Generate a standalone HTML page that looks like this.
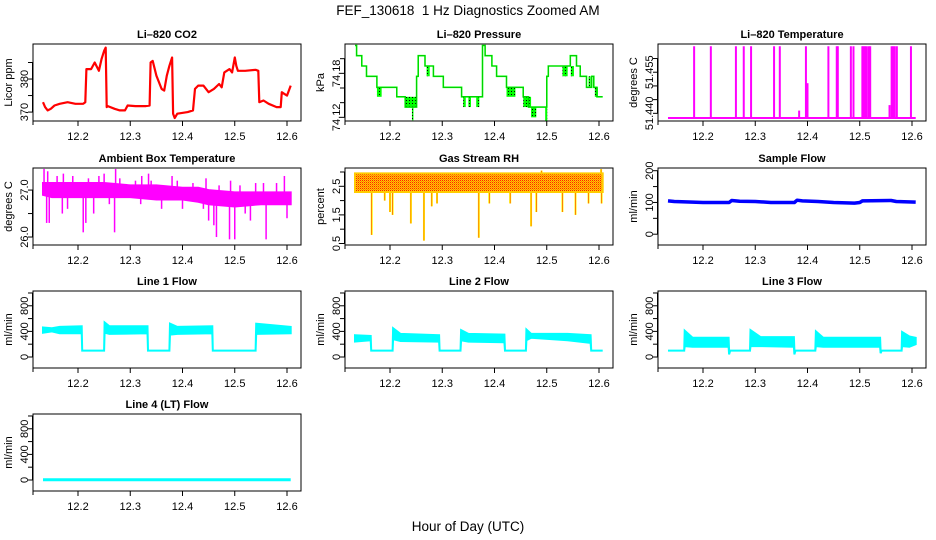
<!DOCTYPE html>
<html><head><meta charset="utf-8"><style>
html,body{margin:0;padding:0;background:#fff;}
svg{display:block;font-family:"Liberation Sans",Arial,sans-serif;}
</style></head><body>
<svg id="chart" width="936" height="540" viewBox="0 0 936 540" xmlns="http://www.w3.org/2000/svg">
<defs>
<pattern id="rhdots" width="2" height="2" patternUnits="userSpaceOnUse"><rect width="2" height="2" fill="#ffcc00"/><rect x="0" y="0" width="1" height="1" fill="#ff2000"/><rect x="1" y="1" width="1" height="1" fill="#ff8000"/></pattern>
<pattern id="presdots" width="3" height="3" patternUnits="userSpaceOnUse"><rect width="3" height="3" fill="#00ff00"/><rect x="1" y="1" width="1" height="1" fill="#000"/></pattern>
</defs>
<text x="468" y="15" text-anchor="middle" font-size="13.5" style="white-space:pre">FEF_130618  1 Hz Diagnostics Zoomed AM</text>
<text x="468" y="531" text-anchor="middle" font-size="13.5">Hour of Day (UTC)</text>
</svg>
<script>
// ---------- data ----------
const xTicks = [12.2, 12.3, 12.4, 12.5, 12.6];
const xTickLabels = ["12.2", "12.3", "12.4", "12.5", "12.6"];

const co2T = [12.133,12.137,12.142,12.148,12.155,12.165,12.18,12.195,12.21,12.214,12.216,12.225,12.232,12.24,12.245,12.25,12.253,12.255,12.257,12.27,12.28,12.29,12.295,12.31,12.33,12.337,12.339,12.343,12.35,12.36,12.365,12.37,12.375,12.38,12.382,12.385,12.39,12.41,12.42,12.424,12.43,12.44,12.45,12.46,12.47,12.475,12.48,12.49,12.495,12.5,12.503,12.506,12.52,12.54,12.545,12.547,12.555,12.565,12.58,12.588,12.59,12.595,12.6,12.607];
const co2V = [373,371.5,370.5,371,372,372.5,373,372.5,372.5,373,383,383,385,382.5,386,388.5,389.5,371.5,371.8,371,370.5,370.5,372,371.8,371.8,372,385,385.5,381,377,376.5,381,384,386.5,369.5,368.2,369.5,370,370.5,377,378,378,376,377,378.5,377.5,382,383,382,386.5,384,382.5,382.5,382.8,382.5,373,373.5,372.5,371.5,371.5,376,375.5,375,378];

const presT = [12.133,12.136,12.146,12.155,12.175,12.213,12.229,12.251,12.254,12.267,12.283,12.302,12.337,12.377,12.382,12.385,12.395,12.404,12.423,12.455,12.465,12.5,12.503,12.545,12.557,12.564,12.576,12.586,12.59,12.596,12.607];
const presV = [74.218,74.204,74.190,74.176,74.161,74.148,74.134,74.176,74.204,74.190,74.176,74.161,74.148,74.218,74.204,74.204,74.190,74.176,74.161,74.148,74.134,74.176,74.190,74.204,74.190,74.176,74.161,74.176,74.161,74.148,74.148];
const presBandT0 = [12.175,12.229,12.270,12.340,12.350,12.365,12.423,12.455,12.470,12.497,12.530,12.546,12.580,12.592,12.242];
const presBandT1 = [12.184,12.251,12.276,12.345,12.355,12.371,12.440,12.470,12.480,12.501,12.540,12.552,12.584,12.598,12.244];
const presBandHi = [74.161,74.148,74.190,74.148,74.148,74.148,74.161,74.148,74.134,74.134,74.190,74.190,74.176,74.161,74.134];
const presBandLo = [74.148,74.134,74.176,74.134,74.134,74.134,74.148,74.134,74.120,74.115,74.176,74.176,74.161,74.148,74.116];

const tempBaseT = [12.133,12.607];
const tempBaseV = [51.4383,51.4383];
const tempSpikeT = [12.183,12.215,12.263,12.278,12.292,12.336,12.347,12.384,12.397,12.4,12.44,12.456,12.458,12.483,12.488,12.505,12.507,12.51,12.513,12.517,12.52,12.557,12.561,12.564,12.567,12.571,12.598];
const tempSpikeV = [51.4645,51.4645,51.4645,51.4645,51.4645,51.4645,51.4645,51.441,51.4645,51.451,51.4645,51.4645,51.4645,51.4645,51.4645,51.4645,51.4645,51.4645,51.4645,51.4645,51.4645,51.443,51.4645,51.4645,51.4645,51.4645,51.4645];

const ambT  = [12.133,12.15,12.2,12.25,12.3,12.35,12.4,12.43,12.45,12.5,12.55,12.607];
const ambHi = [27.15,27.15,27.15,27.15,27.1,27.1,27.05,27.05,27.0,26.95,26.95,26.95];
const ambLo = [26.9,26.85,26.85,26.85,26.85,26.8,26.8,26.75,26.7,26.65,26.7,26.7];
const ambSpikeT = [12.14,12.145,12.17,12.18,12.21,12.215,12.23,12.27,12.26,12.32,12.36,12.4,12.44,12.45,12.46,12.465,12.49,12.5,12.52,12.53,12.56,12.6,12.135,12.142,12.172,12.272,12.25,12.322,12.335,12.38,12.445,12.492,12.555,12.595,12.16,12.19,12.22,12.24,12.28,12.31,12.34,12.39,12.42,12.47,12.51,12.54,12.58];
const ambSpikeV = [26.3,26.3,26.5,26.6,26.1,26.3,26.5,26.1,26.7,26.7,26.6,26.6,26.6,26.35,26.25,26.0,25.95,25.95,26.5,26.35,25.95,26.4,27.45,27.4,27.35,27.45,27.35,27.3,27.35,27.3,27.25,27.2,27.15,27.3,27.3,27.3,27.25,27.3,27.25,27.2,27.2,27.2,27.15,27.1,27.1,27.15,27.15];

const rhT  = [12.133,12.25,12.4,12.5,12.607];
const rhHi = [2.95,2.95,2.95,2.95,2.95];
const rhLo = [2.3,2.3,2.3,2.3,2.3];
const rhSpikeT = [12.165,12.19,12.2,12.205,12.24,12.265,12.28,12.29,12.37,12.39,12.43,12.47,12.48,12.53,12.555,12.58,12.605,12.49,12.604];
const rhSpikeV = [0.8,2.0,1.6,1.5,1.2,0.6,1.8,1.9,0.7,1.9,1.9,1.1,1.6,1.6,1.5,1.9,1.9,3.05,3.1];

const sfT = [12.133,12.145,12.18,12.2,12.25,12.255,12.27,12.3,12.33,12.375,12.38,12.39,12.42,12.45,12.49,12.5,12.505,12.56,12.57,12.607];
const sfV = [105,103,101,100,100,106,104,103,100,100,107,105,103,100,98,100,105,106,103,101];

const l1T  = [12.133,12.15,12.165,12.207,12.208,12.25,12.251,12.26,12.333,12.334,12.375,12.376,12.39,12.457,12.458,12.54,12.541,12.607];
const l1Hi = [460,450,470,480,100,100,540,480,480,100,100,520,470,480,100,100,520,470];
const l1Lo = [380,400,370,370,100,100,380,360,370,100,100,350,360,370,100,100,360,370];

const l2T  = [12.133,12.163,12.164,12.205,12.206,12.22,12.294,12.295,12.335,12.336,12.35,12.419,12.42,12.46,12.461,12.47,12.54,12.584,12.585,12.607];
const l2Hi = [340,330,100,100,450,360,340,100,100,420,360,350,100,100,430,360,360,340,100,100];
const l2Lo = [240,260,100,100,280,250,240,100,100,260,240,230,100,100,260,300,260,220,100,100];

const l3T  = [12.133,12.164,12.165,12.18,12.249,12.25,12.252,12.29,12.291,12.31,12.374,12.375,12.377,12.415,12.416,12.43,12.539,12.54,12.542,12.58,12.581,12.595,12.607];
const l3Hi = [100,100,410,300,300,100,100,100,420,310,310,100,100,100,400,300,300,100,100,100,390,320,300];
const l3Lo = [100,100,170,160,160,40,100,100,170,170,160,40,100,100,170,160,160,60,100,100,170,160,200];

const l4T = [12.133,12.607];
const l4V = [5,5];

// ---------- layout (styling) ----------
const svg = document.getElementById('chart');
const NS = 'http://www.w3.org/2000/svg';
const colL = [33, 345, 658];
const rowT = [44, 168, 291, 414];
const PW = 268, PH = 77;
function mk(tag, attrs, parent){const e=document.createElementNS(NS,tag);for(const k in attrs)e.setAttribute(k,attrs[k]);(parent||svg).appendChild(e);return e;}
function xs(t){return 45+(t-12.2)*522.5;}

const flowTicks=[0,200,400,600,800,1000], flowLabs=["0","","400","","800",""];
const panels = [
 {key:'co2',c:0,r:0,title:'Li\u2013820 CO2',ylab:'Licor ppm',ymin:367.3,ymax:390.6,ticks:[370,375,380,385],labs:["370","","380",""]},
 {key:'pres',c:1,r:0,title:'Li\u2013820 Pressure',ylab:'kPa',ymin:74.115,ymax:74.22,ticks:[74.12,74.14,74.16,74.18,74.20],labs:["74.12","","","74.18",""]},
 {key:'temp',c:2,r:0,title:'Li\u2013820 Temperature',ylab:'degrees C',ymin:51.4372,ymax:51.4653,ticks:[51.44,51.445,51.45,51.455,51.46],labs:["51.440","","","51.455",""]},
 {key:'amb',c:0,r:1,title:'Ambient Box Temperature',ylab:'degrees C',ymin:25.83,ymax:27.47,ticks:[26.0,26.5,27.0],labs:["26.0","","27.0"]},
 {key:'rh',c:1,r:1,title:'Gas Stream RH',ylab:'percent',ymin:0.447,ymax:3.14,ticks:[0.5,1.0,1.5,2.0,2.5,3.0],labs:["0.5","","1.5","","2.5",""]},
 {key:'sf',c:2,r:1,title:'Sample Flow',ylab:'ml/min',ymin:-34,ymax:208.5,ticks:[0,50,100,150,200],labs:["0","","100","","200"]},
 {key:'l1',c:0,r:2,title:'Line 1 Flow',ylab:'ml/min',ymin:-172,ymax:1031,ticks:flowTicks,labs:flowLabs},
 {key:'l2',c:1,r:2,title:'Line 2 Flow',ylab:'ml/min',ymin:-172,ymax:1031,ticks:flowTicks,labs:flowLabs},
 {key:'l3',c:2,r:2,title:'Line 3 Flow',ylab:'ml/min',ymin:-172,ymax:1031,ticks:flowTicks,labs:flowLabs},
 {key:'l4',c:0,r:3,title:'Line 4 (LT) Flow',ylab:'ml/min',ymin:-172,ymax:1031,ticks:flowTicks,labs:flowLabs}
];

function drawLine(g,p,T,V,color,w){
  let d='';for(let i=0;i<T.length;i++){d+=(i?'L':'M')+(p.L+xs(T[i])).toFixed(1)+','+p.y(V[i]).toFixed(1);}
  const e=mk('path',{d:d,fill:'none',stroke:color,'stroke-width':w,'stroke-linejoin':'round'},g);
  
  
}
function drawStep(g,p,T,V,color,w){
  let d='';for(let i=0;i<T.length;i++){const x=(p.L+xs(T[i])).toFixed(1);if(i){d+='L'+x+','+p.y(V[i-1]).toFixed(1);}d+=(i?'L':'M')+x+','+p.y(V[i]).toFixed(1);}
  const e=mk('path',{d:d,fill:'none',stroke:color,'stroke-width':w},g);
  
  
}
function drawBand(g,p,T,H,Lo,fill,stroke){
  let d='';for(let i=0;i<T.length;i++){d+=(i?'L':'M')+(p.L+xs(T[i])).toFixed(1)+','+p.y(H[i]).toFixed(1);}
  for(let i=T.length-1;i>=0;i--){d+='L'+(p.L+xs(T[i])).toFixed(1)+','+p.y(Lo[i]).toFixed(1);}
  d+='Z';
  const e=mk('path',{d:d,fill:fill,stroke:stroke,'stroke-width':2,'stroke-linejoin':'miter'},g);
  
  
}
function drawSpikes(g,p,T,V,base,color,w){
  for(let i=0;i<T.length;i++){
    const x=p.L+xs(T[i]);
    const e=mk('line',{x1:x,x2:x,y1:p.y(base),y2:p.y(V[i]),stroke:color,'stroke-width':w},g);
    
    
  }
}
function drawRects(g,p,T0,T1,H,Lo,fill){
  for(let i=0;i<T0.length;i++){
    const x0=p.L+xs(T0[i]),x1=p.L+xs(T1[i]);
    const e=mk('rect',{x:x0,y:p.y(H[i]),width:Math.max(1.5,x1-x0),height:p.y(Lo[i])-p.y(H[i]),fill:fill},g);
    
    
  }
}

panels.forEach(p=>{
  p.L=colL[p.c]; p.T=rowT[p.r];
  p.y=v=>p.T+(p.ymax-v)/(p.ymax-p.ymin)*PH;
  const g=mk('g',{});
  
  
  const clipId='clip-'+p.key;
  const cp=mk('clipPath',{id:clipId},g); mk('rect',{x:p.L,y:p.T,width:PW,height:PH},cp);
  const data=mk('g',{'clip-path':'url(#'+clipId+')'},g);
  
  

  if(p.key==='co2') drawLine(data,p,co2T,co2V,'#ff0000',2.2);
  if(p.key==='pres'){drawRects(data,p,presBandT0,presBandT1,presBandHi,presBandLo,'url(#presdots)');drawStep(data,p,presT,presV,'#00ff00',1.6);drawStep(data,p,presT,presV,'rgba(0,0,0,0.35)',0.5);}
  if(p.key==='temp'){drawLine(data,p,tempBaseT,tempBaseV,'#ff00ff',2);drawSpikes(data,p,tempSpikeT,tempSpikeV,51.4383,'#ff00ff',2);}
  if(p.key==='amb'){drawBand(data,p,ambT,ambHi,ambLo,'#ff00ff','#ff00ff');drawSpikes(data,p,ambSpikeT,ambSpikeV,26.95,'#ff00ff',1.5);}
  if(p.key==='rh'){drawSpikes(data,p,rhSpikeT,rhSpikeV,2.6,'#ffff00',2);drawSpikes(data,p,rhSpikeT,rhSpikeV,2.6,'#ff3000',0.6);drawBand(data,p,rhT,rhHi,rhLo,'url(#rhdots)','#ffcc00');}
  if(p.key==='sf') drawLine(data,p,sfT,sfV,'#0000ff',3.5);
  if(p.key==='l1') drawBand(data,p,l1T,l1Hi,l1Lo,'#00ffff','#00ffff');
  if(p.key==='l2') drawBand(data,p,l2T,l2Hi,l2Lo,'#00ffff','#00ffff');
  if(p.key==='l3') drawBand(data,p,l3T,l3Hi,l3Lo,'#00ffff','#00ffff');
  if(p.key==='l4') drawLine(data,p,l4T,l4V,'#00ffff',3);

  const box=mk('rect',{x:p.L,y:p.T,width:PW,height:PH,fill:'none',stroke:'#000','stroke-width':1},g);
  
  

  const tt=mk('text',{x:p.L+PW/2,y:p.T-6,'text-anchor':'middle','font-size':11,'font-weight':'bold'},g);
  tt.textContent=p.title;
  
  

  const xb=p.T+PH;
  mk('line',{x1:p.L,x2:p.L,y1:xb,y2:xb+4,stroke:'#000'},g);
  xTicks.forEach((t,i)=>{
    const x=p.L+xs(t);
    const tk=mk('line',{x1:x,x2:x,y1:xb,y2:xb+5,stroke:'#000'},g);
    
    
    const lb=mk('text',{x:x,y:xb+19,'text-anchor':'middle','font-size':11},g);
    lb.textContent=xTickLabels[i];
    
    
  });
  const ya=mk('line',{x1:p.L-0.5,x2:p.L-0.5,y1:p.y(p.ticks[0]),y2:p.y(p.ticks[p.ticks.length-1]),stroke:'#000'},g);
  
  
  p.ticks.forEach((v,i)=>{
    const y=p.y(v);
    const tk=mk('line',{x1:p.L-5,x2:p.L,y1:y,y2:y,stroke:'#000'},g);
    
    
    if(p.labs[i]){
      const lb=mk('text',{x:0,y:0,'text-anchor':'middle','font-size':11,transform:'translate('+(p.L-5)+','+y+') rotate(-90)'},g);
      lb.textContent=p.labs[i];
      
      
    }
  });
  const yl=mk('text',{x:0,y:0,'text-anchor':'middle','font-size':11,transform:'translate('+(p.L-21)+','+(p.T+PH/2)+') rotate(-90)'},g);
  yl.textContent=p.ylab;
  
  
});
</script>
</body></html>
